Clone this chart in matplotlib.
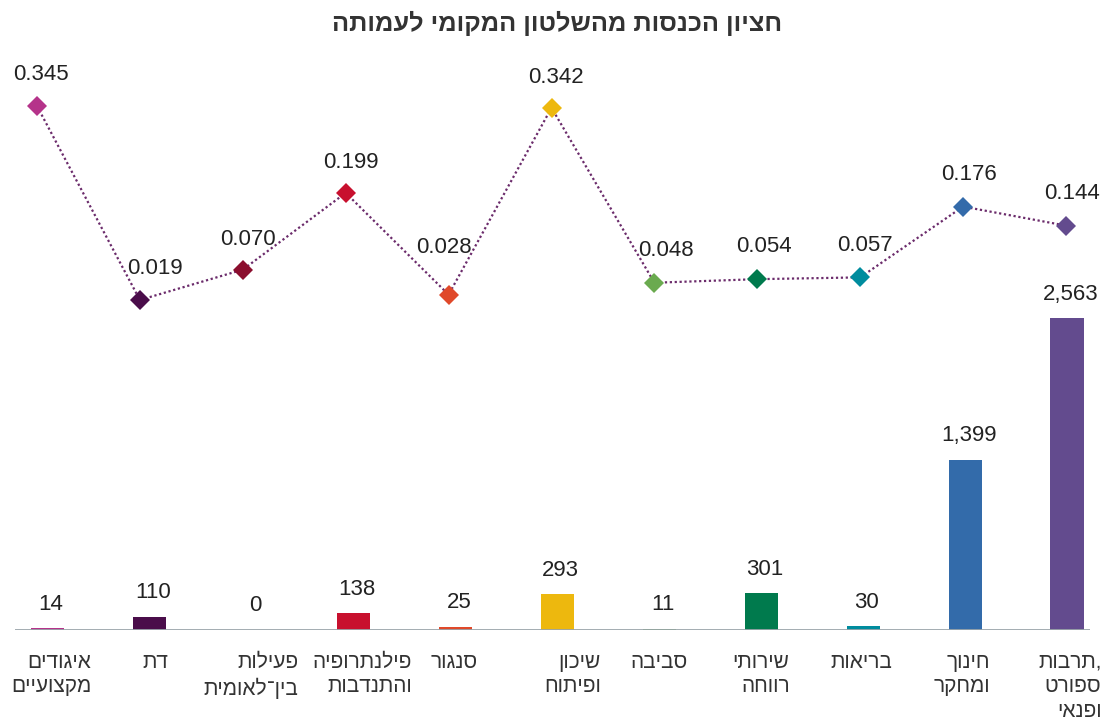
import matplotlib
matplotlib.use("Agg")
import matplotlib.pyplot as plt
import matplotlib.transforms as mtransforms

# Categories in logical (reading) order; lines separated by "\n"
categories = [
    "איגודים\nמקצועיים",
    "דת",
    "פעילות\nבין־לאומית",
    "פילנתרופיה\nוהתנדבות",
    "סנגור",
    "שיכון\nופיתוח",
    "סביבה",
    "שירותי\nרווחה",
    "בריאות",
    "חינוך\nומחקר",
    "תרבות,\nספורט\nופנאי",
]
income_values = [14, 110, 0, 138, 25, 293, 11, 301, 30, 1399, 2563]
ratio_values = [0.345, 0.019, 0.070, 0.199, 0.028, 0.342, 0.048, 0.054, 0.057, 0.176, 0.144]
colors = ["#B5338A", "#4A0D4A", "#8B0E2E", "#C8102E", "#E0492A", "#EDB80E",
          "#6AAA4F", "#007A4D", "#008C9E", "#336BAA", "#634B8E"]
title = "חציון הכנסות מהשלטון המקומי לעמותה"

# label nudges (points) for the ratio annotations, to keep them clear of the line
ratio_label_offsets = [(3, 22.5), (11, 22.5), (3.5, 22), (3.5, 22), (-3, 34), (3.5, 22),
                       (8.5, 23.5), (4.5, 23.5), (3.5, 23), (4.5, 23), (4.5, 23)]
# horizontal nudges (points) for the category names
category_label_dx = [2.5, 4.5, -0.5, 6.5, -0.5, 11, 0, 0, -1, -2.5, 2]

FONT = ["Liberation Sans", "DejaVu Sans"]
plt.rcParams["font.family"] = FONT


def visual(text):
    """Reorder right-to-left Hebrew lines for left-to-right glyph drawing."""
    out = []
    for line in text.split("\n"):
        if line.endswith(","):
            out.append(line[:-1][::-1] + ",")
        else:
            out.append(line[::-1])
    return "\n".join(out)


W, H = 1104, 720
fig = plt.figure(figsize=(W / 100, H / 100), dpi=100)

left_px, right_px, top_px, base_px = 15, 1090, 60, 630
rect = [left_px / W, (H - base_px) / H, (right_px - left_px) / W, (base_px - top_px) / H]
ax = fig.add_axes(rect)
ax2 = fig.add_axes(rect)
ax2.patch.set_visible(False)

x = list(range(len(categories)))

# category slots for the bars and for the secondary (ratio) series
bar_first, bar_step = 47.5, 101.95
line_first, line_step = 37.0, 102.9
ax.set_xlim((left_px - bar_first) / bar_step, (right_px - bar_first) / bar_step)
ax2.set_xlim((left_px - line_first) / line_step, (right_px - line_first) / line_step)

bar_scale = 0.1217  # px per unit
ax.set_ylim(0, (base_px - top_px) / bar_scale)
zero_px, line_scale = 311.3, 595.0
ax2.set_ylim((zero_px - base_px) / line_scale, (zero_px - top_px) / line_scale)

ax.bar(x, income_values, width=0.324, color=colors, zorder=2)
ax.axhline(0, color="#9AA5AA", lw=2, zorder=3)

for xi, v in zip(x, income_values):
    ax.annotate(f"{v:,}", (xi, v), xytext=(2.5, 17.3), textcoords="offset points",
                ha="center", va="center", fontsize=16, color="#222222")

ax2.plot(x, ratio_values, linestyle=(0, (1, 1.2)), color="#6B2B6B", lw=1.6, zorder=3)
for xi, v, c, off in zip(x, ratio_values, colors, ratio_label_offsets):
    ax2.plot([xi], [v], marker="D", ms=10, color=c, markeredgewidth=0, zorder=4)
    ax2.annotate(f"{v:.3f}", (xi, v), xytext=off, textcoords="offset points",
                 ha="center", va="center", fontsize=16, color="#222222")

trans = mtransforms.blended_transform_factory(ax.transData, ax.transAxes)
for xi, lab, dx in zip(x, categories, category_label_dx):
    ax.annotate(visual(lab), (xi, 0), xycoords=trans, xytext=(dx, -16.5),
                textcoords="offset points", ha="center", va="top",
                fontsize=15, color="#333333", linespacing=1.36,
                multialignment="right")

for a in (ax, ax2):
    for s in a.spines.values():
        s.set_visible(False)
    a.set_xticks([])
    a.set_yticks([])

fig.text(557 / W, 1 - 23 / H, visual(title), ha="center", va="center",
         fontsize=18.3, fontweight="bold", color="#333333")

fig.savefig("out.png", dpi=100)
